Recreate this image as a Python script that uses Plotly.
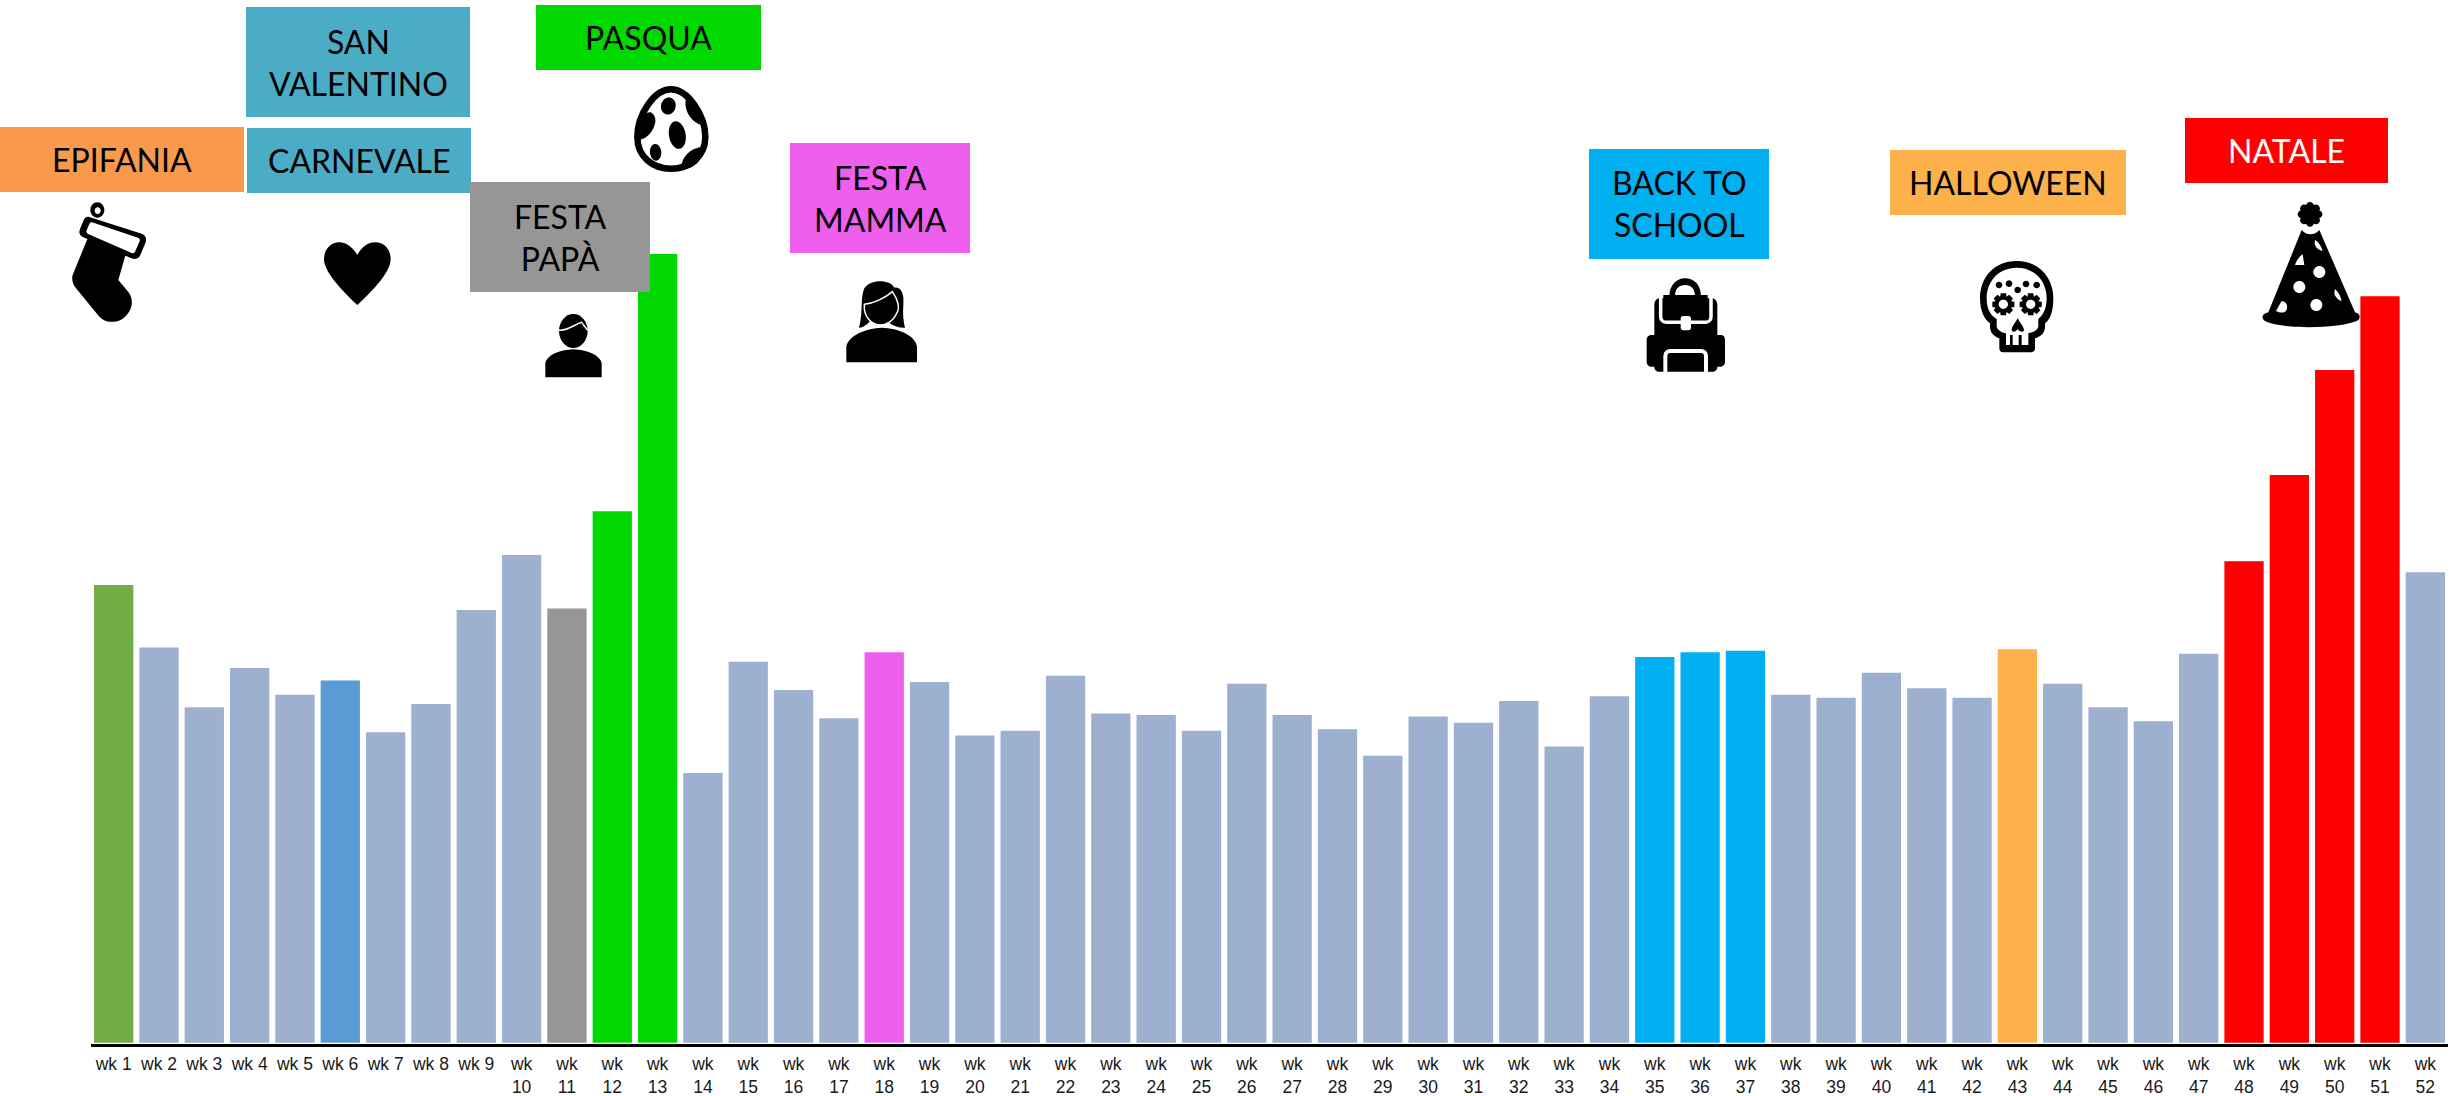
import math
import re
import plotly.graph_objects as go

# ---------- data ----------
weeks = [f"wk {i}" for i in range(1, 53)]
tick_labels = [f"wk {i}" if i < 10 else f"wk<br>{i}" for i in range(1, 53)]
values = [292, 252, 214, 239, 222, 231, 198, 216, 276, 311, 277, 339, 503,
          172, 243, 225, 207, 249, 230, 196, 199, 234, 210, 209, 199, 229,
          209, 200, 183, 208, 204, 218, 189, 221, 246, 249, 250, 222, 220,
          236, 226, 220, 251, 229, 214, 205, 248, 307, 362, 429, 476, 300]
BASE = "#9DB0CF"
highlights = {"wk 1": "#70AD47", "wk 6": "#5B9BD5", "wk 11": "#969696",
              "wk 12": "#00D800", "wk 13": "#00D800", "wk 18": "#EE5FEE",
              "wk 35": "#00B0F0", "wk 36": "#00B0F0", "wk 37": "#00B0F0",
              "wk 43": "#FCB14B", "wk 48": "#FF0000", "wk 49": "#FF0000",
              "wk 50": "#FF0000", "wk 51": "#FF0000"}
bar_colors = [highlights.get(w, BASE) for w in weeks]

box_labels = ["EPIFANIA", "SAN<br>VALENTINO", "CARNEVALE", "PASQUA", "FESTA<br>PAPÀ",
              "FESTA<br>MAMMA", "BACK TO<br>SCHOOL", "HALLOWEEN", "NATALE"]
box_colors = ["#F9994B", "#4BACC6", "#4BACC6", "#00D800", "#969696",
              "#EE5FEE", "#00B0F0", "#FCB14B", "#FF0000"]
box_text_colors = ["black"] * 8 + ["white"]
box_extents = [(0, 244, 127, 192), (246, 470, 7, 117), (247, 471, 128, 193),
               (536, 761, 5, 70), (470, 650, 182, 292), (790, 970, 143, 253),
               (1589, 1769, 149, 259), (1890, 2126, 150, 215), (2185, 2388, 118, 183)]

# ---------- layout frame ----------
W, H = 2458, 1096
L, R, B = 91, 10, 52
PW, PH = W - L - R, H - B


def px(x):
    return (x - L) / PW


def py(y):
    return 1 - y / PH


shapes = []
NUM = re.compile(r"(-?\d+(?:\.\d+)?)[ ,](-?\d+(?:\.\d+)?)")


def icon(ox, oy, path, fill="black", line=None, lw=0):
    def rep(m):
        x = ox + float(m.group(1)) / 3
        y = oy + float(m.group(2)) / 3
        return f"{px(x):.6f},{py(y):.6f}"
    shapes.append(dict(type="path", xref="paper", yref="paper", layer="above",
                       path=NUM.sub(rep, path), fillcolor=fill,
                       line=dict(color=line or "rgba(0,0,0,0)", width=lw)))


def ellipse(cx, cy, rx, ry, deg=0):
    k = 0.5523
    a = math.radians(deg)
    pts = [(rx, 0), (rx, k * ry), (k * rx, ry), (0, ry), (-k * rx, ry), (-rx, k * ry), (-rx, 0),
           (-rx, -k * ry), (-k * rx, -ry), (0, -ry), (k * rx, -ry), (rx, -k * ry), (rx, 0)]
    r = [(cx + x * math.cos(a) - y * math.sin(a), cy + x * math.sin(a) + y * math.cos(a)) for x, y in pts]
    s = f"M{r[0][0]:.2f},{r[0][1]:.2f}"
    for i in range(1, 13, 3):
        s += "C" + " ".join(f"{r[j][0]:.2f},{r[j][1]:.2f}" for j in range(i, i + 3))
    return s + "Z"


def gear(cx, cy, r_out, r_in, teeth=8):
    s = ""
    for i in range(teeth):
        a0 = 2 * math.pi * i / teeth
        step = 2 * math.pi / teeth
        for rad, off in [(r_in, -0.5), (r_out, -0.3), (r_out, 0.3), (r_in, 0.5)]:
            a = a0 + off * step
            s += ("M" if not s else "L") + f"{cx + rad * math.cos(a):.2f},{cy + rad * math.sin(a):.2f}"
    return s + "Z"


# stocking
o = (60, 195)
icon(*o, ellipse(112, 45, 21, 23))
icon(*o, ellipse(113, 47, 9, 10), "white")
icon(*o, "M85,125 L38,240 C33,258 42,272 50,282 L118,365 C140,388 180,385 200,360 C222,335 220,305 200,285 L175,255 L198,175Z")
icon(*o, "M88,66 L245,116 C258,120 260,132 257,142 L242,178 C238,192 226,194 214,190 L70,127 C58,122 56,112 60,102 L70,78 C74,68 80,64 88,66Z")
icon(*o, "M96,82 L234,128 C239,130 241,134 239,139 L226,168 C224,174 220,176 215,174 L86,118 C80,115 78,111 80,106 L88,87 C90,83 92,81 96,82Z", "white")

# heart
icon(310, 230, "M142,75 C125,45 100,35 85,37 C55,40 42,65 42,88 C42,130 110,195 142,225 C175,195 242,130 242,88 C242,60 225,37 195,37 C175,37 155,50 142,75Z")

# father
o = (530, 305)
icon(*o, ellipse(130, 78, 43, 51))
icon(*o, "M46,217 L46,175 C50,150 90,135 130,133 C170,135 210,150 215,175 L215,217Z")
icon(*o, "M85,75 C110,80 130,60 155,52 C165,65 170,75 178,78", "rgba(0,0,0,0)", "white", 1.5)

# egg
o = (620, 80)
icon(*o, "M153,28 C102,28 52,105 52,171 C52,230 98,266 153,266 C208,266 256,230 256,171 C256,105 203,28 153,28Z", "white", "black", 6.5)
icon(*o, ellipse(145, 78, 22, 26, 15))
icon(*o, ellipse(172, 165, 25, 42, -10))
icon(*o, ellipse(107, 217, 17, 25, -5))
icon(*o, "M58,125 C70,105 80,95 92,97 C108,105 110,125 100,145 C90,165 75,178 55,180Z")
icon(*o, "M197,60 C192,90 212,128 252,138 C245,110 225,70 197,50Z")
icon(*o, "M185,268 C180,235 210,200 255,200 C250,235 225,268 185,268Z")

# mother
o = (835, 275)
icon(*o, "M72,158 C85,110 75,70 88,40 C105,12 165,12 178,38 C198,35 208,55 205,90 C203,115 205,140 210,158 C190,160 170,150 155,138 L105,138 C95,150 85,158 72,158Z")
icon(*o, "M88,88 C115,85 150,70 172,50 C190,75 195,100 185,115 C175,140 150,150 135,150 C110,150 85,125 88,88Z", "black", "white", 1.5)
icon(*o, "M34,262 L34,215 C40,180 95,160 140,158 C190,160 240,180 246,215 L246,262Z")

# backpack
o = (1635, 270)
icon(*o, "M103,80 C103,45 125,25 150,25 C178,25 198,45 198,80 L180,80 C180,55 168,45 150,45 C132,45 120,55 120,80Z")
icon(*o, "M58,105 C58,95 65,85 72,85 L232,85 C240,85 247,95 247,105 L247,195 L258,195 C265,195 270,200 270,210 L270,275 C270,285 262,290 255,290 L247,290 C247,300 240,305 232,305 L72,305 C65,305 58,300 58,290 L50,290 C42,290 35,285 35,275 L35,210 C35,200 42,195 50,195 L58,195Z")
icon(*o, "M85,75 L218,75 L218,90 L85,90Z")
icon(*o, "M77,84 L77,140 C77,150 85,157 95,157 L210,157 C220,157 228,150 228,140 L228,84", "rgba(0,0,0,0)", "white", 3.5)
icon(*o, "M145,138 L160,138 C165,138 168,142 168,146 L168,172 C168,178 165,181 160,181 L145,181 C140,181 137,178 137,172 L137,146 C137,142 140,138 145,138Z", "white")
icon(*o, "M91,306 L91,258 C91,248 98,243 106,243 L198,243 C206,243 213,248 213,258 L213,306", "rgba(0,0,0,0)", "white", 4)

# skull
o = (1970, 255)
icon(*o, "M140,18 C70,18 30,70 30,130 C30,170 45,195 60,205 L60,215 C60,235 75,245 88,250 L88,280 C88,288 92,292 100,292 L180,292 C190,292 195,288 195,280 L195,250 C210,245 225,235 225,215 L225,205 C240,195 250,170 250,130 C250,70 210,18 140,18Z")
icon(*o, "M140,38 C85,38 50,80 50,130 C50,160 60,180 80,192 L80,212 C80,225 95,232 108,235 L108,270 L175,270 L175,235 C190,232 205,225 205,212 L205,192 C220,180 230,160 230,130 C230,80 195,38 140,38Z", "white")
for cx, cy in [(87, 90), (117, 86), (143, 105), (168, 87), (200, 90)]:
    icon(*o, ellipse(cx, cy, 10, 10))
for cx in (100, 182):
    icon(*o, gear(cx, 148, 34, 25))
    icon(*o, ellipse(cx, 148, 14, 14), "white")
icon(*o, "M143,190 C135,205 125,215 125,225 C125,232 138,232 143,222 C148,232 162,232 162,225 C162,215 150,205 143,190Z")
icon(*o, "M120,240 L128,240 L128,270 L120,270Z")
icon(*o, "M146,240 L155,240 L155,270 L146,270Z")

# party hat
o = (2250, 195)
for i in range(8):
    a = 2 * math.pi * i / 8
    icon(*o, ellipse(180 + 25 * math.cos(a), 58 + 25 * math.sin(a), 12, 12))
icon(*o, ellipse(180, 58, 26, 26))
icon(*o, "M155,105 C168,122 195,122 208,105 L315,352 C330,355 335,370 320,378 C270,400 100,405 45,378 C35,372 32,358 55,352Z")
for cx, cy in [(208, 231), (148, 276), (199, 330)]:
    icon(*o, ellipse(cx, cy, 18, 18), "white")
icon(*o, "M158,178 L163,210 L135,210 C140,195 150,182 158,178Z", "white")
icon(*o, "M195,135 C205,140 215,155 217,168 C205,165 190,155 195,135Z", "white")
icon(*o, "M255,282 C265,290 272,305 275,318 C262,315 248,300 255,282Z", "white")
icon(*o, "M95,318 C112,320 117,340 105,350 C95,355 85,352 78,348Z", "white")

# ---------- label boxes ----------
annotations = []
for text, col, tcol, (x0, x1, y0, y1) in zip(box_labels, box_colors, box_text_colors, box_extents):
    shapes.append(dict(type="rect", xref="paper", yref="paper", layer="above",
                       x0=px(x0), x1=px(x1), y0=py(y1), y1=py(y0),
                       fillcolor=col, line=dict(width=0)))
    annotations.append(dict(text=text, xref="paper", yref="paper",
                            x=px((x0 + x1) / 2), y=py((y0 + y1) / 2),
                            xanchor="center", yanchor="middle", showarrow=False, align="center",
                            font=dict(family="Lato", size=32, color=tcol)))

fig = go.Figure(go.Bar(x=weeks, y=values, marker=dict(color=bar_colors, line=dict(width=0))))
fig.update_layout(
    width=W, height=H, margin=dict(l=L, r=R, t=0, b=B, pad=0, autoexpand=False),
    paper_bgcolor="white", plot_bgcolor="white", bargap=0.133, showlegend=False,
    shapes=shapes, annotations=annotations,
    xaxis=dict(type="category", tickmode="array", tickvals=weeks, ticktext=tick_labels,
               tickangle=0, showgrid=False, showline=True, linecolor="black", linewidth=2.5,
               automargin=False, ticks="outside", ticklen=2, tickcolor="rgba(0,0,0,0)",
               tickfont=dict(family="Liberation Sans", size=17.5, color="#1a1a1a")),
    yaxis=dict(range=[-0.8, 665], visible=False, showgrid=False, zeroline=False, automargin=False),
)
fig.write_html("out.html", config=dict(displayModeBar=False),
               post_script="document.body.style.margin='0';document.body.style.overflow='hidden';")
